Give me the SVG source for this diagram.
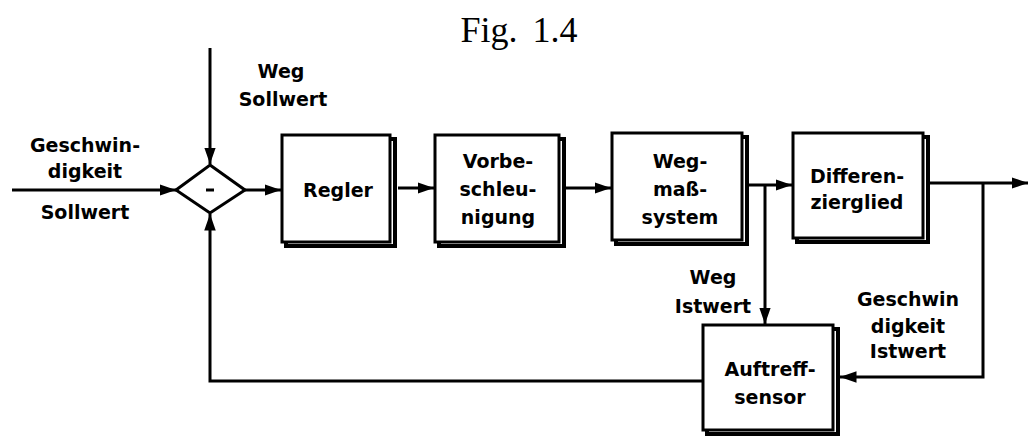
<svg xmlns="http://www.w3.org/2000/svg" width="1032" height="437" viewBox="0 0 1032 437">
<style>
.box{fill:#fff;stroke:#000;stroke-width:3}
.shadow{fill:none;stroke:#000;stroke-width:4}
.ln{fill:none;stroke:#000;stroke-width:3}
.t{font-family:"DejaVu Sans",sans-serif;font-weight:bold;font-size:19px;fill:#000;text-anchor:middle}
.title{font-family:"Liberation Serif",serif;font-size:36px;fill:#000;text-anchor:middle;word-spacing:6px}
</style>
<defs>
<marker id="ah" viewBox="0 0 10 10" refX="10" refY="5" markerWidth="5.5" markerHeight="5.5" orient="auto" markerUnits="strokeWidth">
<path d="M0,1.5 L10,5 L0,8.5 Z" fill="#000"/>
</marker>
</defs>
<rect width="1032" height="437" fill="#fff"/>
<text class="title" x="519" y="42">Fig. 1.4</text>

<g id="connectors">
<line class="ln" x1="12" y1="190" x2="176" y2="190" marker-end="url(#ah)"/>
<line class="ln" x1="210" y1="48" x2="210" y2="164" marker-end="url(#ah)"/>
<line class="ln" x1="245" y1="190" x2="281" y2="190" marker-end="url(#ah)"/>
<line class="ln" x1="398" y1="188" x2="434" y2="188" marker-end="url(#ah)"/>
<line class="ln" x1="566" y1="188" x2="611" y2="188" marker-end="url(#ah)"/>
<line class="ln" x1="748" y1="185" x2="792" y2="185" marker-end="url(#ah)"/>
<line class="ln" x1="929" y1="183" x2="1028" y2="183" marker-end="url(#ah)"/>
<line class="ln" x1="765" y1="185" x2="765" y2="324" marker-end="url(#ah)"/>
<polyline class="ln" points="983,183 983,377 840,377" marker-end="url(#ah)"/>
<polyline class="ln" points="703,381 210,381 210,214" marker-end="url(#ah)"/>
</g>

<g id="sum">
<polygon class="box" points="210,165 245,190 210,213 176,190"/>
<line x1="206" y1="190" x2="214" y2="190" stroke="#000" stroke-width="3"/>
</g>

<g id="regler">
<rect class="box" x="282" y="135" width="108" height="107"/>
<path class="shadow" d="M390,139 H395 V246 H286 V242"/>
<text class="t" x="338" y="197">Regler</text>
</g>

<g id="vorbeschleunigung">
<rect class="box" x="435" y="135" width="124" height="107"/>
<path class="shadow" d="M559,139 H564 V246 H439 V242"/>
<text class="t" x="498" y="168">Vorbe-</text>
<text class="t" x="498" y="196">schleu-</text>
<text class="t" x="498" y="224">nigung</text>
</g>

<g id="wegmesssystem">
<rect class="box" x="612" y="133" width="130" height="107"/>
<path class="shadow" d="M742,137 H747 V244 H616 V240"/>
<text class="t" x="680" y="168">Weg-</text>
<text class="t" x="680" y="196">maß-</text>
<text class="t" x="680" y="224">system</text>
</g>

<g id="differenzierglied">
<rect class="box" x="793" y="133" width="130" height="105"/>
<path class="shadow" d="M923,137 H928 V242 H797 V238"/>
<text class="t" x="857" y="183">Differen-</text>
<text class="t" x="857" y="209">zierglied</text>
</g>

<g id="auftreffsensor">
<rect class="box" x="703" y="325" width="130" height="105"/>
<path class="shadow" d="M833,329 H838 V434 H707 V430"/>
<text class="t" x="770" y="376">Auftreff-</text>
<text class="t" x="770" y="404">sensor</text>
</g>

<g id="labels">
<text class="t" x="85" y="152">Geschwin-</text>
<text class="t" x="85" y="178">digkeit</text>
<text class="t" x="85" y="219">Sollwert</text>
<text class="t" x="281" y="78">Weg</text>
<text class="t" x="283" y="106">Sollwert</text>
<text class="t" x="713" y="284">Weg</text>
<text class="t" x="713" y="313">Istwert</text>
<text class="t" x="908" y="306">Geschwin</text>
<text class="t" x="908" y="333">digkeit</text>
<text class="t" x="908" y="358">Istwert</text>
</g>
</svg>
